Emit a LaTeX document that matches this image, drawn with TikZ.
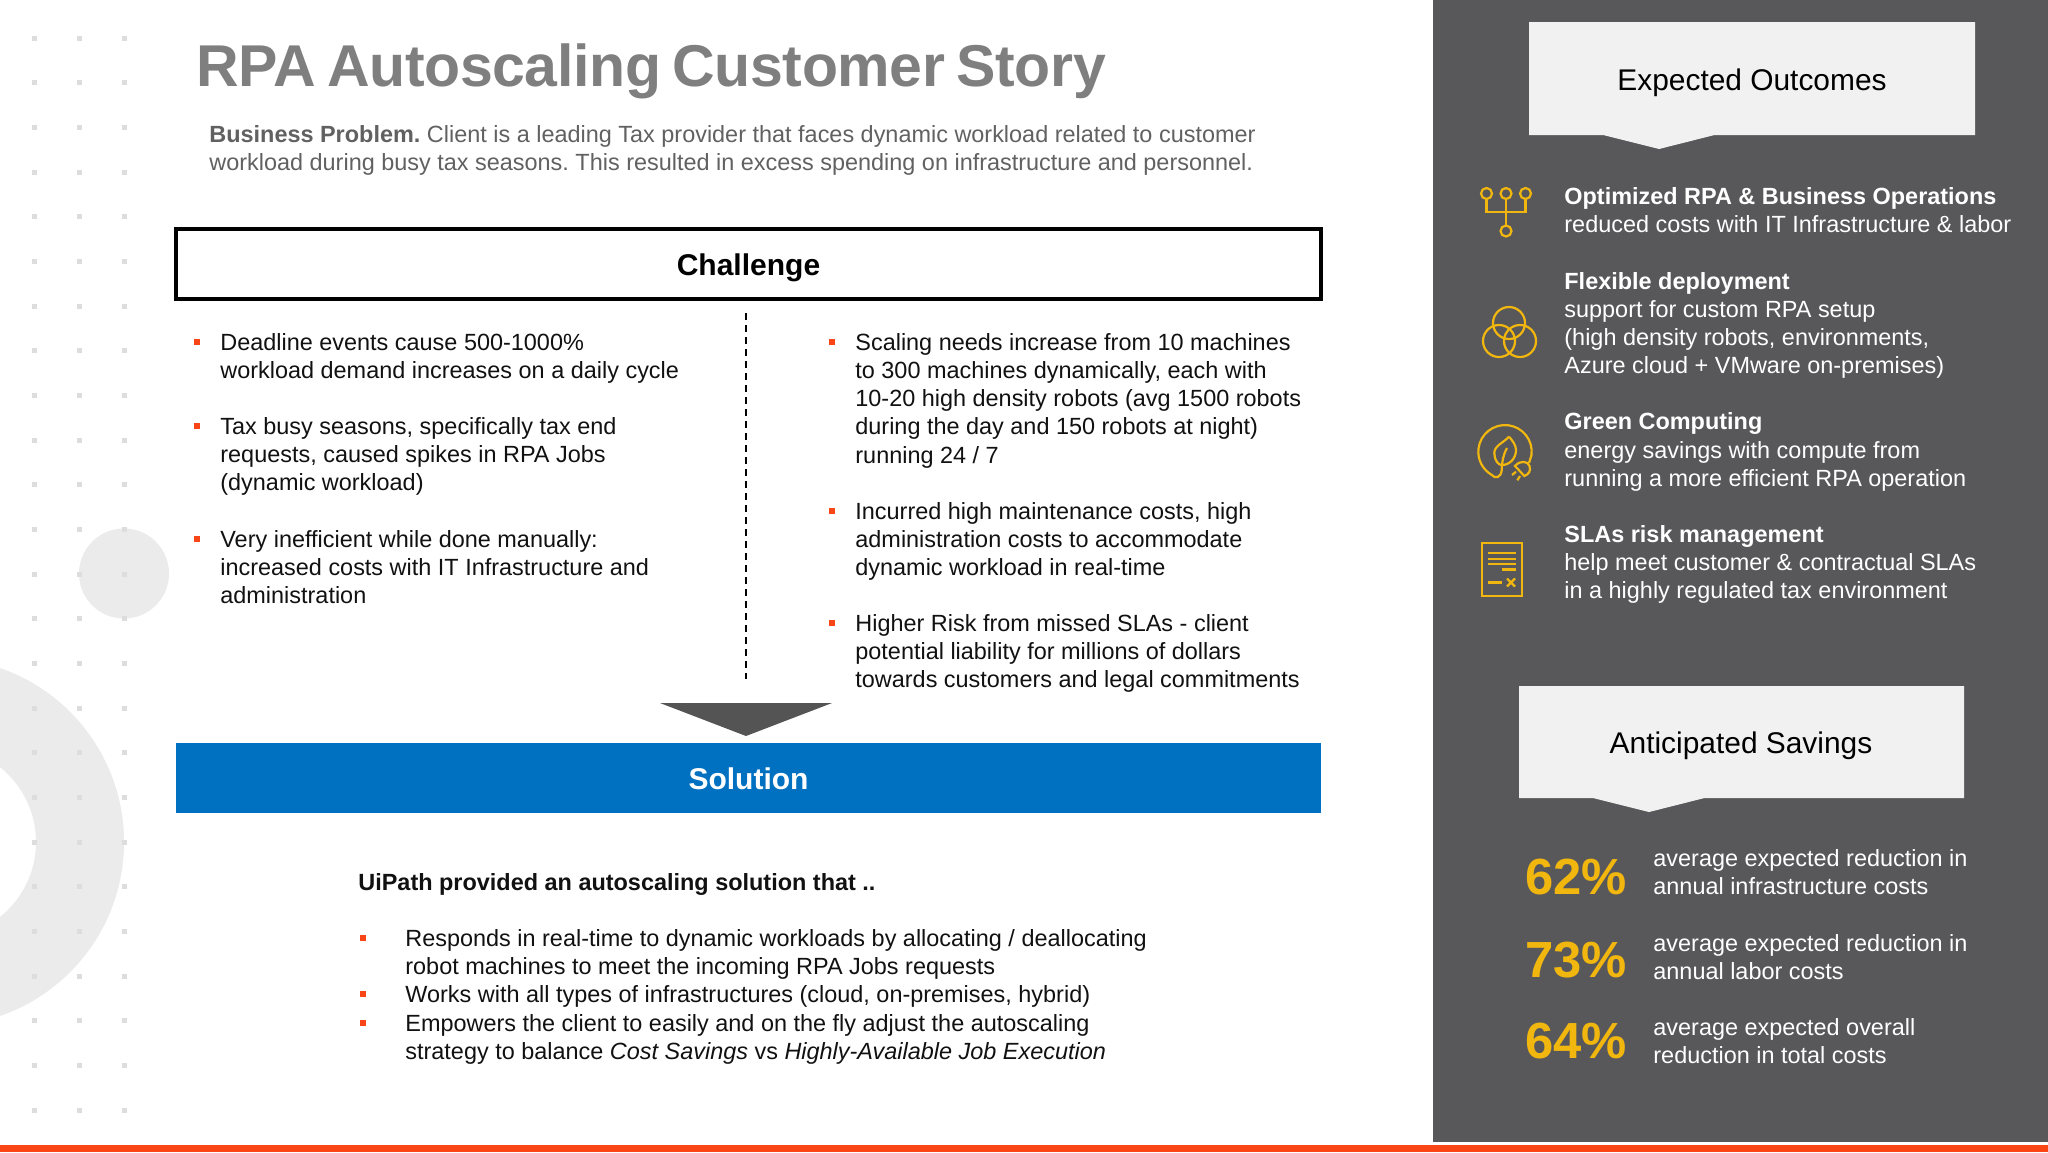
\documentclass[tikz,border=0pt]{standalone}
\usepackage{fontspec}
\setmainfont{Liberation Sans}
\newfontfamily\titlefont[LetterSpace=-0.6,WordSpace=0.7]{Liberation Sans}
\definecolor{panelgray}{HTML}{58585A}
\definecolor{boxgray}{HTML}{F1F1F2}
\definecolor{decogray}{HTML}{EBEBEB}
\definecolor{dotgray}{HTML}{DDDDDD}
\definecolor{titlegray}{HTML}{7F7F7F}
\definecolor{introgray}{HTML}{616161}
\definecolor{barorange}{HTML}{FA4616}
\definecolor{solblue}{HTML}{0070C0}
\definecolor{gold}{HTML}{F2B70F}
\definecolor{inkblack}{HTML}{111111}
\frenchspacing
\begin{document}
\begin{tikzpicture}[x=0.5pt, y=-0.5pt,
	txt/.style={inner sep=0pt, anchor=north west, align=left, text=inkblack, font=\fontsize{11.72}{14.1}\selectfont},
	wtxt/.style={txt, text=white},
	bul/.style={fill=barorange, minimum size=3.2pt, inner sep=0pt, anchor=center},
	pct/.style={inner sep=0pt, anchor=west, text=gold, font=\fontsize{25.4}{30}\selectfont\bfseries},
	head/.style={inner sep=0pt, text=black, font=\fontsize{14.95}{17}\selectfont},
	icon/.style={gold, line width=1.1pt}]
	\useasboundingbox (0,0) rectangle (2048,1152);
	%\draw [thin, help lines] (0,0) grid[step=100] (2048,1152);
	%%% Sfondo
	\fill[white] (0,0) rectangle (2048,1152);
	\fill[decogray, even odd rule] (-60,842) circle (184) (-60,842) circle (96);
	\fill[decogray] (124,573.5) circle (45);
	\foreach \x in {34,79,124}
		\foreach \k in {0,...,24}
			\fill[dotgray] ({\x-2.5},{38+44.67*\k-2.5}) rectangle ++(5,5);
	\fill[panelgray] (1433,0) rectangle (2048,1142);
	\fill[barorange] (0,1145) rectangle (2048,1152);
	%%% Titolo
	\node[txt, text=titlegray, font=\fontsize{29.5}{36}\titlefont\bfseries] (title) at (196,43.5) {RPA Autoscaling Customer Story};
	\node[txt, text=introgray] (intro) at (209,125) {\textbf{Business Problem.} Client is a leading Tax provider that faces dynamic workload related to customer\\workload during busy tax seasons. This resulted in excess spending on infrastructure and personnel.};
	%%% Challenge
	\draw[line width=2pt] (176,229) rectangle (1321,299);
	\node[head, font=\fontsize{15}{18}\selectfont\bfseries] (challenge) at (748.5,268) {Challenge};
	\coordinate (divtop) at (746,313);
	\coordinate (divbot) at (746,679);
	\draw[line width=0.9pt, black, dash pattern=on 3.5pt off 2.5pt] (divtop) -- (divbot);
	%%% Colonna sinistra
	\foreach \y in {342,426,539} \node[bul] at (197,\y) {};
	\node[txt] (leftA) at (220,333) {Deadline events cause 500-1000\%\\workload demand increases on a daily cycle};
	\node[txt] (leftB) at (220,417) {Tax busy seasons, specifically tax end\\requests, caused spikes in RPA Jobs\\(dynamic workload)};
	\node[txt] (leftC) at (220,530) {Very inefficient while done manually:\\increased costs with IT Infrastructure and\\administration};
	%%% Colonna destra
	\foreach \y in {342,511,623} \node[bul] at (832,\y) {};
	\node[txt] (rightA) at (855,333) {Scaling needs increase from 10 machines\\to 300 machines dynamically, each with\\10-20 high density robots (avg 1500 robots\\during the day and 150 robots at night)\\running 24 / 7};
	\node[txt] (rightB) at (855,502) {Incurred high maintenance costs, high\\administration costs to accommodate\\dynamic workload in real-time};
	\node[txt] (rightC) at (855,614) {Higher Risk from missed SLAs - client\\potential liability for millions of dollars\\towards customers and legal commitments};
	%%% Solution
	\fill[panelgray!95!black] (660,703) -- (832,703) -- (746,736) -- cycle;
	\fill[solblue] (176,743) rectangle (1321,813);
	\node[head, text=white, font=\fontsize{15}{18}\selectfont\bfseries] (solution) at (748.5,779) {Solution};
	\node[txt, font=\fontsize{11.72}{14.1}\selectfont\bfseries] (soltitle) at (358,873) {UiPath provided an autoscaling solution that ..};
	\foreach \y in {938,994,1023} \node[bul] at (363,\y) {};
	\node[txt] (sollist) at (405,929) {Responds in real-time to dynamic workloads by allocating / deallocating\\robot machines to meet the incoming RPA Jobs requests\\Works with all types of infrastructures (cloud, on-premises, hybrid)\\Empowers the client to easily and on the fly adjust the autoscaling\\strategy to balance \textit{Cost Savings} vs \textit{Highly-Available Job Execution}};
	%%% Expected Outcomes
	\fill[boxgray] (1529,22) -- (1975,22) -- (1975,135) -- (1714.5,135) -- (1659,149) -- (1603,135) -- (1529,135) -- cycle;
	\node[head] (outcomes) at (1752,83) {Expected Outcomes};
	\node[wtxt] (outA) at (1564,187) {\textbf{Optimized RPA \& Business Operations}\\reduced costs with IT Infrastructure \& labor};
	\node[wtxt] (outB) at (1564,272) {\textbf{Flexible deployment}\\support for custom RPA setup\\(high density robots, environments,\\Azure cloud + VMware on-premises)};
	\node[wtxt] (outC) at (1564,412.5) {\textbf{Green Computing}\\energy savings with compute from\\running a more efficient RPA operation};
	\node[wtxt] (outD) at (1564,525) {\textbf{SLAs risk management}\\help meet customer \& contractual SLAs\\in a highly regulated tax environment};
	%%% Icone
	\foreach \x in {1486.5,1506,1525.5} \draw[icon] (\x,193.5) circle (5.5);
	\draw[icon] (1506,231) circle (5.5);
	\draw[icon] (1486.5,199) -- (1486.5,212) -- (1525.5,212) -- (1525.5,199);
	\draw[icon] (1506,199) -- (1506,225.5);
	\draw[icon] (1509,323) circle (16);
	\draw[icon] (1499,341) circle (16);
	\draw[icon] (1520,341) circle (16);
	\draw[icon] (1531.5,455) arc[start angle=7, end angle=-240, radius=26.7] .. controls (1495,479) and (1501,478) .. (1501.7,470) .. controls (1502,462) and (1503,455) .. (1507,448);
	\draw[icon] (1509,436.7) .. controls (1503,443) and (1494,446) .. (1494.3,453.3) .. controls (1494.5,460) and (1498,465) .. (1501.7,465) .. controls (1510,465) and (1516,458) .. (1516,450) .. controls (1516,445) and (1512,440) .. (1509,436.7);
	\draw[icon] (1515,466) .. controls (1520,460) and (1528,461) .. (1529.5,466) .. controls (1531,471) and (1529,474) .. (1524.3,476) -- cycle;
	\draw[icon] (1516,471.7) -- (1512,475);
	\draw[icon] (1520,476) -- (1517.3,480.3);
	\draw[icon] (1531.5,455) -- (1529,463);
	\draw[icon] (1482,543) rectangle (1522,596);
	\foreach \y in {553,559,564} \draw[icon] (1488,\y) -- (1516,\y);
	\draw[icon] (1502,569.5) -- (1516,569.5);
	\draw[icon] (1488,582.5) -- (1502,582.5);
	\draw[icon] (1507,578.5) -- (1515,586.5) (1507,586.5) -- (1515,578.5);
	%%% Anticipated Savings
	\fill[boxgray] (1519,686) -- (1964,686) -- (1964,798) -- (1704.5,798) -- (1649,812) -- (1593,798) -- (1519,798) -- cycle;
	\node[head] (savings) at (1741,746) {Anticipated Savings};
	\node[pct] (pctA) at (1525,877) {62\%};
	\node[pct] (pctB) at (1525,960) {73\%};
	\node[pct] (pctC) at (1525,1041) {64\%};
	\node[wtxt] (savA) at (1653,849) {average expected reduction in\\annual infrastructure costs};
	\node[wtxt] (savB) at (1653,934) {average expected reduction in\\annual labor costs};
	\node[wtxt] (savC) at (1653,1018) {average expected overall\\reduction in total costs};
\end{tikzpicture}
\end{document}
